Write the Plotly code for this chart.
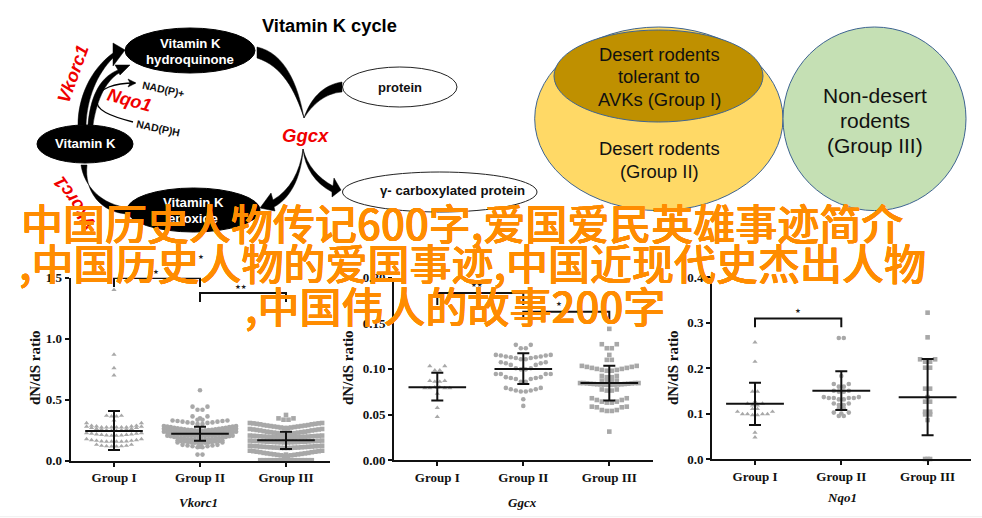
import plotly.graph_objects as go

W, H = 982, 518
GRAY = "#a8a8a8"
INK = "#111111"
SERIF = "Liberation Serif"
SANS = "Liberation Sans"

GROUPS = ["Group I", "Group II", "Group III"]
YLABEL = "dN/dS ratio"

# ---- values: mean, upper and lower whisker per group
vk_mean = [0.243, 0.221, 0.167]
vk_high = [0.407, 0.279, 0.238]
vk_low = [0.088, 0.164, 0.096]
gg_mean = [0.080, 0.100, 0.0845]
gg_high = [0.0957, 0.117, 0.1035]
gg_low = [0.0655, 0.0835, 0.0655]
nq_mean = [0.1216, 0.150, 0.1355]
nq_high = [0.1678, 0.1927, 0.2198]
nq_low = [0.0747, 0.1077, 0.052]

# ---- swarm values: "single" sit on the centre line; each row of "rows" lists
# values from the centre outwards, mirrored left and right
vk1_single = [1.40, 0.87, 0.76, 0.70, 0.33]
vk1_rows = [
    [0.363, 0.369],
    [0.273, 0.273, 0.273, 0.281, 0.287, 0.309],
    [0.246, 0.250, 0.256, 0.262, 0.270, 0.280],
    [0.205, 0.208, 0.212, 0.216, 0.222, 0.227],
    [0.156, 0.156, 0.158, 0.164, 0.169, 0.178],
    [0.117, 0.119, 0.123, 0.131],
]
vk2_single = [0.578, 0.348, 0.115]
vk2_rows = [
    [0.418, 0.443],
    [0.336, 0.363],
    [0.300, 0.310, 0.314, 0.320, 0.325, 0.330],
    [0.110, 0.118, 0.125, 0.130, 0.150],
    [0.050],
]
vk2_dense = [
    [0.248, 0.250, 0.252, 0.254, 0.258, 0.262, 0.266, 0.270, 0.275, 0.280, 0.284],
    [0.226, 0.228, 0.230, 0.233, 0.236, 0.240, 0.244, 0.248, 0.252, 0.256, 0.262],
    [0.200, 0.202, 0.204, 0.207, 0.210, 0.214, 0.218, 0.222, 0.226, 0.232, 0.238],
    [0.170, 0.172, 0.175, 0.178, 0.182, 0.186, 0.190, 0.194, 0.200, 0.205],
    [0.146, 0.148, 0.150, 0.154, 0.158, 0.162, 0.168],
]
vk3_single = [0.375, 0.05]
vk3_rows = [[0.336, 0.347]]
vk3_dense = [
    [0.268, 0.272, 0.276, 0.280, 0.284, 0.288, 0.292, 0.298, 0.302, 0.306, 0.309],
    [0.219, 0.222, 0.226, 0.230, 0.234, 0.238, 0.242, 0.248, 0.252, 0.256, 0.260],
    [0.190, 0.191, 0.192, 0.194, 0.195, 0.197, 0.198, 0.200, 0.202, 0.204, 0.206],
    [0.150, 0.151, 0.152, 0.153, 0.155, 0.156, 0.158, 0.160, 0.161, 0.163, 0.165],
    [0.104, 0.105, 0.107, 0.108, 0.110, 0.112, 0.114, 0.116, 0.118, 0.120, 0.123],
    [0.040, 0.044, 0.048, 0.052, 0.056, 0.060, 0.064, 0.070, 0.074, 0.078, 0.082],
    [0.004, 0.004, 0.004, 0.004, 0.004, 0.004, 0.004, 0.004],
]

gg1_single = [0.0475, 0.0575, 0.0795, 0.0730]
gg1_rows = [[0.0985, 0.103], [0.0860, 0.0870], [0.0800, 0.0790, 0.0790]]
gg2_single = [0.0668, 0.0595, 0.1000]
gg2_rows = [
    [0.1226, 0.1263],
    [0.1106, 0.1120, 0.1128, 0.1135, 0.1146, 0.1153],
    [0.0995, 0.1007, 0.1044, 0.1062, 0.1073],
    [0.0860, 0.0890, 0.0900, 0.0910, 0.0945, 0.0945],
    [0.0752, 0.0763, 0.0777, 0.0792],
]
gg3_single = [0.1438, 0.1153, 0.0314]
gg3_rows = [
    [0.1226, 0.1270],
    [0.1099],
    [0.0980, 0.0989, 0.1000, 0.1011, 0.1022, 0.1033],
    [0.0909, 0.0923],
    [0.0870, 0.0872],
    [0.0763, 0.0775],
    [0.0631, 0.0642, 0.0660, 0.0679],
    [0.0540, 0.0550, 0.0580, 0.0587],
]
gg3_dense = [[0.0825, 0.0828, 0.0830, 0.0832, 0.0835, 0.0838, 0.0842, 0.0845, 0.0845]]

nq1_single = [0.2564, 0.2139, 0.126, 0.058, 0.0476]
nq1_rows = [[0.148], [0.118, 0.122], [0.0967, 0.0989, 0.0989, 0.104], [0.110]]
nq2_single = [0.1824, 0.100]
nq2_rows = [
    [0.266],
    [0.159, 0.165],
    [0.148, 0.150],
    [0.131, 0.134, 0.134, 0.136],
    [0.1187, 0.122],
    [0.111],
    [0.0945, 0.102],
]
nq3_single = [0.3216, 0.2674, 0.136, 0.0857, 0.0]
nq3_rows = [[0.2139, 0.2191], [0.2007], [0.1546], [0.126], [0.104], [0.098], [0.0]]

# ---- panel geometry in reference pixels: left, right, bottom, top
PANELS = [
    dict(ax=1, box=(70.7, 330.0, 460.7, 277.7), ymax=1.5, dtick=0.5, fmt=".1f", first=114.0, gap=86.0,
         title="Vkorc1", title_at=(198, 502), ylabel_x=35,
         mean=vk_mean, high=vk_high, low=vk_low,
         swarms=[(vk1_single, vk1_rows, None, "triangle-up"),
                 (vk2_single, vk2_rows, vk2_dense, "circle"),
                 (vk3_single, vk3_rows, vk3_dense, "square")]),
    dict(ax=2, box=(394.0, 652.7, 460.3, 277.5), ymax=0.20, dtick=0.05, fmt=".2f", first=437.3, gap=86.0,
         title="Ggcx", title_at=(522, 502), ylabel_x=348,
         mean=gg_mean, high=gg_high, low=gg_low,
         swarms=[(gg1_single, gg1_rows, None, "triangle-up"),
                 (gg2_single, gg2_rows, None, "circle"),
                 (gg3_single, gg3_rows, gg3_dense, "square")]),
    dict(ax=3, box=(712.0, 971.0, 459.0, 277.0), ymax=0.4, dtick=0.1, fmt=".1f", first=755.0, gap=86.3,
         title="Nqo1", title_at=(842, 497), ylabel_x=673,
         mean=nq_mean, high=nq_high, low=nq_low,
         swarms=[(nq1_single, nq1_rows, None, "triangle-up"),
                 (nq2_single, nq2_rows, None, "circle"),
                 (nq3_single, nq3_rows, None, "square")]),
]

# significance brackets: panel, from group, to group, top value, end value, stars, star px position
BRACKETS = [
    (1, 1, 2, 1.497, 1.423, "★", 156, 272),
    (1, 1, 3, 1.620, 1.539, "★", 201, 257),
    (1, 2, 3, 1.374, 1.300, "★★", 241, 287),
    (2, 1, 2, 0.183, 0.170, "★★", 477, 285),
    (2, 2, 3, 0.1626, 0.1535, "★", 559, 304),
    (3, 1, 2, 0.309, 0.2895, "★", 798, 311),
]

fig = go.Figure()


def expand(group, single, rows, dense):
    xs, ys = [], []
    for v in single:
        xs.append(group)
        ys.append(v)
    for table, step in ((rows, 0.058), (dense or [], 0.040)):
        for row in table:
            for i, v in enumerate(row):
                off = (i + 0.5) * step
                xs += [group - off, group + off]
                ys += [v, v]
    return xs, ys


annotations = []
layout_axes = {}
for p in PANELS:
    L, R, B, T = p["box"]
    k = p["ax"]
    unit = p["gap"]
    xlo = 1 + (L - p["first"]) / unit
    xhi = 1 + (R - p["first"]) / unit
    nticks = int(round(p["ymax"] / p["dtick"]))
    yvals = [p["dtick"] * i for i in range(nticks + 1)]
    layout_axes[f"xaxis{k}"] = dict(
        domain=[L / W, R / W], range=[xlo, xhi], anchor=f"y{k}", automargin=False,
        tickvals=[1, 2, 3], ticktext=GROUPS, ticks="outside", ticklen=4, tickwidth=2,
        tickcolor=INK, showline=True, linewidth=2, linecolor=INK, showgrid=False, zeroline=False,
        tickfont=dict(family=SERIF, size=13, color=INK, weight=700),
    )
    layout_axes[f"yaxis{k}"] = dict(
        domain=[(H - B) / H, (H - T) / H], range=[0, p["ymax"]], anchor=f"x{k}", automargin=False,
        tickvals=yvals, ticktext=[format(v, p["fmt"]) for v in yvals],
        ticks="outside", ticklen=4, tickwidth=2, tickcolor=INK, showline=True, linewidth=2,
        linecolor=INK, showgrid=False, zeroline=False,
        tickfont=dict(family=SERIF, size=13, color=INK, weight=700),
    )
    annotations.append(dict(x=p["title_at"][0], y=p["title_at"][1], text=f"<b><i>{p['title']}</i></b>",
                            font=dict(family=SERIF, size=13, color=INK)))
    annotations.append(dict(x=p["ylabel_x"], y=368, text=f"<b>{YLABEL}</b>", textangle=-90,
                            font=dict(family=SERIF, size=15, color=INK)))
    axis = dict(xaxis=f"x{k}", yaxis=f"y{k}")
    for g, (single, rows, dense, sym) in enumerate(p["swarms"], start=1):
        xs, ys = expand(g, single, rows, dense)
        fig.add_trace(go.Scatter(x=xs, y=ys, mode="markers", cliponaxis=False, showlegend=False,
                                 marker=dict(symbol=sym, size=4.6, color=GRAY, line=dict(width=0)),
                                 name=f"{p['title']} {GROUPS[g-1]}", **axis))
    fig.add_trace(go.Scatter(
        x=[1, 2, 3], y=p["mean"], mode="markers", showlegend=False, cliponaxis=False,
        marker=dict(size=1, color=INK),
        error_y=dict(type="data", symmetric=False, thickness=2, width=6, color=INK,
                     array=[h - m for h, m in zip(p["high"], p["mean"])],
                     arrayminus=[m - l for m, l in zip(p["mean"], p["low"])]),
        **axis))
    for g, m in zip([1, 2, 3], p["mean"]):
        fig.add_trace(go.Scatter(x=[g - 0.335, g + 0.335], y=[m, m], mode="lines", showlegend=False,
                                 line=dict(color=INK, width=2), **axis))

for panel, g0, g1, top, end, stars, sx, sy in BRACKETS:
    fig.add_trace(go.Scatter(x=[g0, g0, g1, g1], y=[end, top, top, end], mode="lines",
                             cliponaxis=False, showlegend=False, line=dict(color=INK, width=2),
                             xaxis=f"x{panel}", yaxis=f"y{panel}"))
    annotations.append(dict(x=sx, y=sy, text=stars,
                            font=dict(family="DejaVu Sans", size=6.5, color="#222222")))

# ---- pixel overlay for the pathway diagram and Venn diagram
fig.add_trace(go.Scatter(x=[0], y=[0], mode="markers", marker=dict(opacity=0), showlegend=False,
                         hoverinfo="skip", xaxis="x4", yaxis="y4"))
layout_axes["xaxis4"] = dict(domain=[0, 1], range=[0, W], visible=False, anchor="y4", fixedrange=True)
layout_axes["yaxis4"] = dict(domain=[0, 1], range=[H, 0], visible=False, anchor="x4", fixedrange=True)

shapes = [dict(type="line", xref="x4", yref="y4", x0=0, x1=W, y0=516.7, y1=516.7,
               line=dict(color="#efefef", width=1), layer="above")]


def ellipse(x0, x1, y0, y1, fill, line, width=1.0):
    shapes.append(dict(type="circle", xref="x4", yref="y4", x0=x0, x1=x1, y0=y0, y1=y1,
                       fillcolor=fill, line=dict(color=line, width=width), layer="above"))


def filled(path):
    shapes.append(dict(type="path", xref="x4", yref="y4", path=path, fillcolor="#000000",
                       line=dict(color="#000000", width=0.5), layer="above"))


def thin(path):
    shapes.append(dict(type="path", xref="x4", yref="y4", path=path,
                       line=dict(color="#000000", width=1.3), layer="above"))


# Venn diagram
VENN_LINE = "#3e6491"
ellipse(534.7, 783, 27, 210.6, "#FFD966", VENN_LINE)
ellipse(554, 763, 30, 122, "#BF9000", VENN_LINE)
ellipse(783, 966, 27, 210.6, "#C5E0B4", VENN_LINE)

# pathway ellipses
ellipse(125, 255, 28, 73, "#000000", "#000000")
ellipse(37, 133, 125, 163, "#000000", "#000000")
ellipse(127, 260, 188, 232, "#000000", "#000000")
ellipse(342.5, 457, 67, 107, "#ffffff", "#222222")
ellipse(342.5, 537, 172, 212, "#ffffff", "#222222")

# tapered pathway arrows
filled("M 78 125 C 78 98 90 70 113 53 L 113 43 L 125 50 L 113 66 L 113 58 C 97 74 87 98 86 125 Z")
filled("M 88 125 C 90 100 98 78 118 70 L 115 65 L 130 65 L 120 75 L 119 73 C 104 82 96 104 93 125 Z")
filled("M 257 47 C 285 53 298 85 304 118 C 295 90 282 66 257 58 Z")
filled("M 342 82 C 322 85 310 100 304 118 C 312 105 325 93 342 92 Z")
filled("M 303 149 C 307 165 318 178 333 186 L 334 178 L 341 190 L 332 197 L 332 192 C 315 183 305 168 303 149 Z")
filled("M 303 149 C 300 172 290 190 273 200 L 271 193 L 260 208 L 275 211 L 274 207 C 293 197 302 172 303 149 Z")
filled("M 81 165 C 84 185 100 205 130 208 L 130 214 C 100 214 84 190 87 165 Z")
thin("M 133 122 C 110 116 95 110 97 100 C 98 88 115 83 135 83")
filled("M 136 83 L 128 79 L 130 83 L 128 87 Z")

annotations += [
    dict(x=329, y=25, text="<b>Vitamin K cycle</b>", font=dict(family=SANS, size=18.3, color="#000")),
    dict(x=190, y=43, text="<b>Vitamin K</b>", font=dict(family=SANS, size=13.2, color="#fff")),
    dict(x=190, y=59, text="<b>hydroquinone</b>", font=dict(family=SANS, size=13.2, color="#fff")),
    dict(x=85, y=143, text="<b>Vitamin K</b>", font=dict(family=SANS, size=13.2, color="#fff")),
    dict(x=193, y=202, text="<b>Vitamin K</b>", font=dict(family=SANS, size=13.2, color="#fff")),
    dict(x=193, y=218, text="<b>epoxide</b>", font=dict(family=SANS, size=13.2, color="#fff")),
    dict(x=400, y=87, text="<b>protein</b>", font=dict(family=SANS, size=13, color="#111")),
    dict(x=452, y=190, text="<b>γ- carboxylated protein</b>", font=dict(family=SANS, size=13.2, color="#111")),
    dict(x=163, y=89, text="<b>NAD(P)+</b>", textangle=12, font=dict(family=SANS, size=10.5, color="#111")),
    dict(x=158, y=128, text="<b>NAD(P)H</b>", textangle=12, font=dict(family=SANS, size=10.5, color="#111")),
    dict(x=305, y=135, text="<b><i>Ggcx</i></b>", font=dict(family=SANS, size=18.5, color="#f00000")),
    dict(x=73, y=74, text="<b><i>Vkorc1</i></b>", textangle=-70, font=dict(family=SANS, size=18, color="#f00000")),
    dict(x=129, y=100, text="<b><i>Nqo1</i></b>", textangle=15, font=dict(family=SANS, size=18, color="#f00000")),
    dict(x=75, y=203, text="<b><i>Vkorc1</i></b>", textangle=-125, font=dict(family=SANS, size=18, color="#f00000")),
    dict(x=659, y=54, text="Desert rodents", font=dict(family=SANS, size=18.4, color="#111")),
    dict(x=659, y=76.5, text="tolerant to", font=dict(family=SANS, size=18.4, color="#111")),
    dict(x=659, y=99, text="AVKs (Group I)", font=dict(family=SANS, size=18.4, color="#111")),
    dict(x=659, y=148, text="Desert rodents", font=dict(family=SANS, size=18.4, color="#111")),
    dict(x=659, y=171, text="(Group II)", font=dict(family=SANS, size=18.4, color="#111")),
    dict(x=875, y=95, text="Non-desert", font=dict(family=SANS, size=21, color="#111")),
    dict(x=875, y=120, text="rodents", font=dict(family=SANS, size=21, color="#111")),
    dict(x=875, y=145, text="(Group III)", font=dict(family=SANS, size=21, color="#111")),
]

ORANGE_LINES = [
    ("中国历史人物传记600字,爱国爱民英雄事迹简介", 19, 221),
    (",中国历史人物的爱国事迹,中国近现代史杰出人物", 17, 261),
    (",中国伟人的故事200字", 243, 304),
]
SHADOW = "0.3px 0 0 #FF8C00, -0.3px 0 0 #FF8C00, 0 0.3px 0 #FF8C00, 0 -0.3px 0 #FF8C00"
for text, x, y in ORANGE_LINES:
    annotations.append(dict(x=x, y=y, text=text, xanchor="left",
                            font=dict(family="Noto Sans CJK SC", size=42, color="#FF8C00", weight=500,
                                      shadow=SHADOW)))

for a in annotations:
    a.setdefault("xanchor", "center")
    a.update(xref="x4", yref="y4", yanchor="middle", showarrow=False)

fig.update_layout(width=W, height=H, margin=dict(l=0, r=0, t=0, b=0, pad=0, autoexpand=False),
                  paper_bgcolor="#ffffff",
                  plot_bgcolor="rgba(0,0,0,0)", showlegend=False, shapes=shapes, annotations=annotations,
                  **layout_axes)
fig.write_html("out.html", config={"displayModeBar": False},
               post_script="document.body.style.margin='0';document.documentElement.style.overflow='hidden';")
